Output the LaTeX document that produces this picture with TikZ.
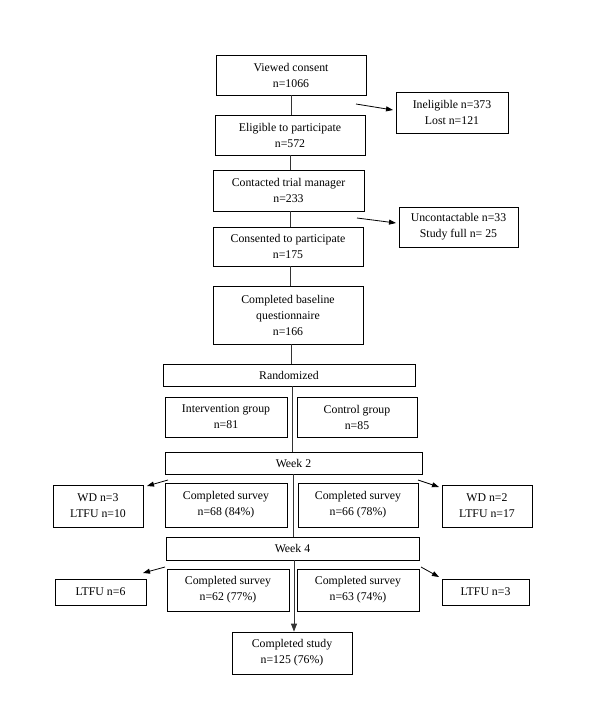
\documentclass[tikz,border=0pt]{standalone}
\usepackage{fontspec}
\setmainfont{Liberation Serif}
\newfontfamily\tnrfont{Liberation Serif}
\usetikzlibrary{arrows.meta,calc}
\begin{document}
\begin{tikzpicture}[x=1pt,y=-1pt,
  box/.style={draw=black,line width=0.8pt,align=center,inner sep=0pt,
    font=\tnrfont\fontsize{11.8}{16}\selectfont},
  conn/.style={line width=0.8pt,draw=black!80},
  side/.style={line width=0.8pt,draw=black,-{Triangle[length=7pt,width=5pt]}}]
\fill[white] (0,0) rectangle (593,712);
\useasboundingbox (0,0) rectangle (593,712);
% nodes
\node[box,minimum width=150pt,minimum height=40pt] (viewed) at (291,75) {Viewed consent\\n=1066};
\node[box,minimum width=112pt,minimum height=41pt] (inel) at (452,112.5) {Ineligible n=373\\Lost n=121};
\node[box,minimum width=150pt,minimum height=40pt] (elig) at (290,135) {Eligible to participate\\n=572};
\node[box,minimum width=151pt,minimum height=41pt] (contact) at (288.5,190.5) {Contacted trial manager\\n=233};
\node[box,minimum width=119pt,minimum height=40pt] (uncont) at (458.5,227) {Uncontactable n=33\\Study full n= 25};
\node[box,minimum width=150pt,minimum height=39pt] (consent) at (288,246.5) {Consented to participate\\n=175};
\node[box,minimum width=150pt,minimum height=58pt] (baseline) at (288,315) {Completed baseline\\questionnaire\\n=166};
\node[box,minimum width=252pt,minimum height=22pt] (random) at (289,375) {Randomized};
\node[box,minimum width=122pt,minimum height=40pt] (interv) at (226,417) {Intervention group\\n=81};
\node[box,minimum width=120pt,minimum height=40pt] (control) at (357,417) {Control group\\n=85};
\node[box,minimum width=257pt,minimum height=22pt] (week2) at (293.5,463) {Week 2};
\node[box,minimum width=90pt,minimum height=42pt] (wdl) at (98,506) {WD n=3\\LTFU n=10};
\node[box,minimum width=122pt,minimum height=44pt] (cs68) at (226,505) {Completed survey\\n=68 (84\%)};
\node[box,minimum width=120pt,minimum height=44pt] (cs66) at (358,505) {Completed survey\\n=66 (78\%)};
\node[box,minimum width=90pt,minimum height=42pt] (wdr) at (487,506) {WD n=2\\LTFU n=17};
\node[box,minimum width=253pt,minimum height=23pt] (week4) at (292.5,548.5) {Week 4};
\node[box,minimum width=91pt,minimum height=26pt] (ltfl) at (100.5,592) {LTFU n=6};
\node[box,minimum width=122pt,minimum height=42pt] (cs62) at (228,590) {Completed survey\\n=62 (77\%)};
\node[box,minimum width=122pt,minimum height=42pt] (cs63) at (358,590) {Completed survey\\n=63 (74\%)};
\node[box,minimum width=87pt,minimum height=26pt] (ltfr) at (485.5,592) {LTFU n=3};
\node[box,minimum width=120pt,minimum height=42pt] (study) at (292,653) {Completed study\\n=125 (76\%)};
% main line
\draw[conn] (viewed.south) -- (viewed.south |- elig.north);
\draw[conn] (elig.south) -- (elig.south |- contact.north);
\draw[conn] ([xshift=1.5pt]contact.south) -- ([xshift=1.5pt]contact.south |- consent.north);
\draw[conn] ([xshift=2pt]consent.south) -- ([xshift=2pt]consent.south |- baseline.north);
\draw[conn] ([xshift=3pt]baseline.south) -- ([xshift=3pt]baseline.south |- random.north);
\draw[conn] ([xshift=3pt]random.south) -- ([xshift=3pt]random.south |- week2.north);
\draw[conn] ([xshift=-0.5pt]week2.south) -- ([xshift=-0.5pt]week2.south |- week4.north);
\draw[conn,-{Triangle[length=8pt,width=6pt]}] ([xshift=1.5pt]week4.south) -- ([xshift=1.5pt]week4.south |- study.north);
% side arrows
\coordinate (a1) at (356,104); \coordinate (b1) at (393,110);
\coordinate (a2) at (357,218); \coordinate (b2) at (396,223);
\coordinate (a3) at (168,480); \coordinate (b3) at (147,486);
\coordinate (a4) at (418,480); \coordinate (b4) at (439,487);
\coordinate (a5) at (165,567); \coordinate (b5) at (143,573);
\coordinate (a6) at (421,567); \coordinate (b6) at (439,577);
\draw[side] (a1) -- (b1);
\draw[side] (a2) -- (b2);
\draw[side] (a3) -- (b3);
\draw[side] (a4) -- (b4);
\draw[side] (a5) -- (b5);
\draw[side] (a6) -- (b6);
\end{tikzpicture}
\end{document}
